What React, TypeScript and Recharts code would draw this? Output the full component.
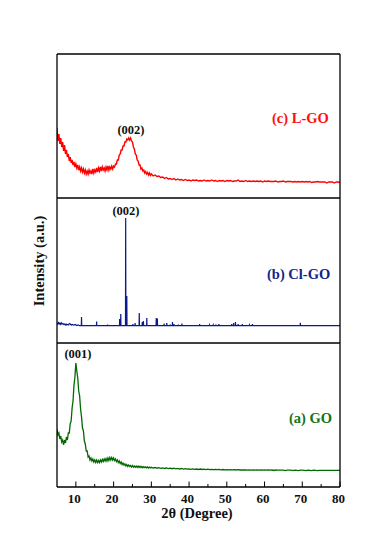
import { LineChart, Line, XAxis, YAxis } from "recharts";

// 2θ sampling grids (scan start, step, count)
const grid = (start: number, step: number, n: number) =>
  Array.from({ length: n }, (_, k) => +(start + k * step).toFixed(2));

const ANGLES_FINE = grid(5, 0.25, 101); // 5 .. 30
const ANGLES_COARSE = grid(30.5, 0.5, 100); // 30.5 .. 80

const X_TICKS = [10, 15, 20, 25, 30, 35, 40, 45, 50, 55, 60, 65, 70, 75, 80];

// (c) L-GO
const LGO_FINE = [
  70, 57, 64, 54, 60, 51, 56, 47, 53, 44,
  48, 41, 44, 37, 41, 35, 38, 33, 36, 31,
  34, 30, 33, 28, 31, 27, 30, 26, 29, 25,
  28, 24, 27, 24, 28, 25, 27, 24, 29, 25,
  28, 26, 30, 26, 30, 27, 31, 27, 31, 28,
  30, 27, 31, 28, 32, 28, 31, 29, 32, 29,
  32, 31, 34, 34, 38, 38, 43, 44, 48, 48,
  52, 52, 56, 56, 59, 58, 60, 58, 60, 57,
  56, 51, 49, 44, 43, 38, 37, 33, 33, 29,
  30, 27, 28, 25, 26.5, 24, 25.5, 23, 25, 22.5,
  24,
];
const LGO_COARSE = [
  22, 23, 21.5, 22, 20.5, 21, 19.5, 20.5, 19, 19.5,
  18.5, 19.5, 18, 19, 18, 18.5, 17.5, 18.5, 17.5, 18,
  17, 18, 17.5, 18, 17, 17.5, 17, 18, 17, 17.5,
  17, 18, 17, 17.5, 16.5, 17.5, 17, 17.5, 16.5, 17.5,
  17, 17.5, 16.5, 17, 17, 18, 16.5, 17, 16.5, 17.5,
  16.5, 17, 16.5, 17, 16.5, 17, 16.5, 17, 16, 17,
  16.5, 17, 16.5, 16.5, 16.5, 17, 16, 16.5, 16.5, 17,
  16, 16.5, 16.5, 16.5, 16, 16.5, 16, 16.5, 16, 16.5,
  16, 16.5, 16, 16.5, 15.5, 16, 16, 16.5, 16, 16,
  16, 16, 15, 16, 16, 16, 15, 16, 16, 15.5,
];

// (b) Cl-GO
const CLGO_BASE = 17.3;
const CLGO_NOISE_ANGLES = [5, 5.2, 5.4, 5.6, 5.8, 6, 6.2, 6.4, 6.6, 6.8, 7, 7.2, 7.4, 7.6, 7.8, 8, 8.2, 8.4, 8.6, 8.8, 9, 9.4, 9.8, 10.2, 10.6, 11];
const CLGO_NOISE = [20, 19, 20.5, 19, 20, 18.5, 20, 19, 19.5, 18.5, 19, 18, 19, 18, 18.5, 18, 19, 19.5, 18.5, 18, 18.5, 18, 18.5, 17.5, 18, 17.3];
const CLGO_PEAK_ANGLES = [
  11.5, 15.5, 18.4, 21.6, 21.9, 23.2, 23.5, 25.1, 25.7, 26.8, 27.6, 27.9, 28.8,
  31.3, 31.6, 33.4, 34.1, 35.0, 35.6, 36.0, 37.2, 38.1, 42.8, 45.4, 46.4, 47.1,
  47.9, 51.3, 51.8, 52.3, 53.0, 54.1, 56.0, 56.8, 69.5,
];
const CLGO_PEAKS = [
  26, 21.5, 18.5, 24, 29, 125, 47, 19, 20, 30, 21, 22, 25,
  25, 24.5, 19.5, 20, 18.5, 21, 19, 18.5, 19.5, 19, 18, 18, 18.3,
  19, 19, 20, 21, 19, 19, 18, 19, 20.3,
];

// (a) GO
const GO_FINE = [
  58, 52, 54, 48, 51, 45, 47, 42, 47, 44,
  50, 47, 54, 54, 63, 66, 79, 86, 102, 110,
  124, 116, 109, 96, 91, 78, 70, 59, 56, 46,
  43, 36, 36, 30, 31, 27, 29, 26, 28, 25,
  27, 24.5, 27, 24.5, 26.5, 24.5, 27, 25, 27.5, 25.5,
  28, 26, 28.5, 26, 29, 26.5, 29.5, 27, 29.5, 27,
  29, 26.5, 28, 25.5, 27, 24.5, 26, 23.5, 25, 22.5,
  24, 22, 23, 21, 22.5, 20.5, 22, 20.5, 21.5, 20,
  21.5, 19.8, 21, 19.8, 21, 19.6, 20.8, 19.5, 20.7, 19.5,
  20.5, 19.3, 20.3, 19.3, 20.2, 19.2, 20, 19, 19.9, 19,
  19.7,
];
const GO_COARSE = [
  19, 19.5, 18.8, 19.3, 18.6, 19.1, 18.5, 19, 18.4, 18.9,
  18.3, 18.8, 18.2, 18.6, 18, 18.5, 17.9, 18.3, 17.8, 18.2,
  17.7, 18.1, 17.6, 18, 17.5, 18, 17.5, 17.9, 17.4, 17.8,
  17.4, 17.7, 17.3, 17.7, 17.3, 17.6, 17.2, 17.5, 17.2, 17.4,
  17.1, 17.3, 17.1, 17.3, 17, 17.3, 17, 17.2, 17, 17.2,
  16.9, 17.2, 16.9, 17.1, 16.9, 17.1, 16.9, 17.1, 16.8, 17,
  16.8, 17, 16.8, 17, 16.5, 17, 16.8, 16.9, 16.8, 16.9,
  16.4, 16.9, 16.8, 16.9, 16.4, 16.9, 16.7, 16.4, 16.8, 16.8,
  16.7, 16.4, 16.8, 16.7, 16.4, 16.8, 16.7, 16.4, 16.7, 16.7,
  16.7, 16.7, 16.7, 16.7, 16.7, 16.7, 16.7, 16.7, 16.7, 16.7,
];

const scan = (fine: number[], coarse: number[]) => [
  ...ANGLES_FINE.map((t, k) => ({ t, i: fine[k] })),
  ...ANGLES_COARSE.map((t, k) => ({ t, i: coarse[k] })),
];

const lgoData = scan(LGO_FINE, LGO_COARSE);
const goData = scan(GO_FINE, GO_COARSE);
const clgoData = [
  ...CLGO_NOISE_ANGLES.map((t, k) => ({ t, i: CLGO_NOISE[k] })),
  ...CLGO_PEAK_ANGLES.flatMap((t, k) => [
    { t: t - 0.05, i: CLGO_BASE },
    { t, i: CLGO_PEAKS[k] },
    { t: t + 0.05, i: CLGO_BASE },
  ]),
  { t: 80, i: CLGO_BASE },
];

const W = 380;
const H = 543;
const SERIF = "'Liberation Serif', 'Times New Roman', serif";
const AXIS = { stroke: "#000", strokeWidth: 1.3 };

const BottomTick = (props: any) => {
  const { x, y, payload } = props;
  const major = payload.value % 10 === 0;
  return (
    <g>
      <line x1={x} x2={x} y1={y} y2={y - (major ? 5.5 : 3)} stroke="#000" strokeWidth={1} />
      {major && (
        <text x={x - 1.5} y={y + 16} textAnchor="middle" fontFamily={SERIF} fontWeight="bold" fontSize={13} fill="#111">
          {payload.value}
        </text>
      )}
    </g>
  );
};

interface PanelProps {
  data: { t: number; i: number }[];
  color: string;
  top: number;
  bottom: number;
  strokeWidth?: number;
  showTop?: boolean;
  showTicks?: boolean;
}

// axes are 1px thick boxes in Recharts 3 (zero-size axes are not drawn), so margins give that pixel back
function Panel({ data, color, top, bottom, strokeWidth = 1, showTop, showTicks }: PanelProps) {
  const yMax = bottom - top;
  return (
    <div style={{ position: "absolute", left: 0, top: 0 }}>
      <LineChart
        width={W}
        height={H}
        data={data}
        margin={{ top: showTop ? top - 1 : top, left: 56, right: 39, bottom: H - bottom - 1 }}
      >
        <XAxis
          type="number"
          dataKey="t"
          domain={[5, 80]}
          ticks={X_TICKS}
          interval={0}
          height={1}
          axisLine={AXIS}
          tickLine={false}
          tickSize={0}
          tickMargin={0}
          tick={showTicks ? <BottomTick /> : false}
          allowDataOverflow
        />
        {showTop && (
          <XAxis xAxisId="top" orientation="top" type="number" domain={[5, 80]} height={1} tick={false} tickLine={false} axisLine={AXIS} />
        )}
        <YAxis type="number" domain={[0, yMax]} width={1} tick={false} tickLine={false} axisLine={AXIS} allowDataOverflow />
        <YAxis yAxisId="right" orientation="right" type="number" domain={[0, yMax]} width={1} tick={false} tickLine={false} axisLine={AXIS} />
        <Line type="linear" dataKey="i" stroke={color} strokeWidth={strokeWidth} dot={false} isAnimationActive={false} />
      </LineChart>
    </div>
  );
}

export default function App() {
  const bold = { fontFamily: SERIF, fontWeight: "bold" as const };
  return (
    <div style={{ position: "absolute", left: 0, top: 0, width: W, height: H, background: "#fff" }}>
      <Panel data={lgoData} color="#ff0000" top={54} bottom={198} strokeWidth={1.4} showTop />
      <Panel data={clgoData} color="#0a1a8c" top={198} bottom={343} strokeWidth={1.2} />
      <Panel data={goData} color="#006a00" top={343} bottom={487} strokeWidth={1.3} showTicks />
      <svg width={W} height={H} style={{ position: "absolute", left: 0, top: 0, pointerEvents: "none" }}>
        <text x={131} y={134} textAnchor="middle" fontSize={12.5} fill="#111" {...bold}>(002)</text>
        <text x={272} y={123.3} fontSize={14.5} fill="#ff1010" {...bold}>(c) L-GO</text>
        <text x={126} y={215} textAnchor="middle" fontSize={12.5} fill="#111" {...bold}>(002)</text>
        <text x={267} y={278.7} fontSize={14.5} fill="#13238c" {...bold}>(b) Cl-GO</text>
        <text x={78} y={358} textAnchor="middle" fontSize={12.5} fill="#111" {...bold}>(001)</text>
        <text x={289} y={423.3} fontSize={14.5} fill="#137513" {...bold}>(a) GO</text>
        <text x={197} y={518} textAnchor="middle" fontSize={14.5} fill="#111" {...bold}>2θ (Degree)</text>
        <text x={44} y={261} textAnchor="middle" fontSize={14.5} fill="#111" transform="rotate(-90 44 261)" {...bold}>
          Intensity (a.u.)
        </text>
      </svg>
    </div>
  );
}
